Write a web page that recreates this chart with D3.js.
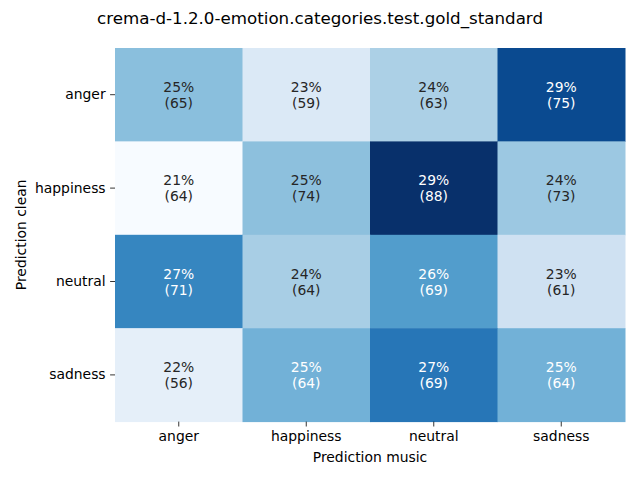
<!DOCTYPE html>
<html><head><meta charset="utf-8">
<script src="https://cdn.jsdelivr.net/npm/d3@7"></script>
<style>body{margin:0;background:#fff}text{font-family:"DejaVu Sans",sans-serif}</style>
</head><body>
<svg id="c" width="640" height="480"></svg>
<script>
const title = "crema-d-1.2.0-emotion.categories.test.gold_standard";
const rowLabels = ["anger", "happiness", "neutral", "sadness"];
const colLabels = ["anger", "happiness", "neutral", "sadness"];
const angerRow = [65, 59, 63, 75];
const happinessRow = [64, 74, 88, 73];
const neutralRow = [71, 64, 69, 61];
const sadnessRow = [56, 64, 69, 64];
const counts = [angerRow, happinessRow, neutralRow, sadnessRow];
const xTitle = "Prediction music";
const yTitle = "Prediction clean";

const svg = d3.select("#c");
const L = 115, T = 48, R = 625, B = 421.6;
const x = d3.scaleBand().domain(colLabels).range([L, R]);
const y = d3.scaleBand().domain(rowLabels).range([T, B]);

const cells = [];
counts.forEach((row, i) => {
  const tot = d3.sum(row);
  row.forEach((v, j) => cells.push({r: rowLabels[i], c: colLabels[j], v, p: v / tot}));
});
const ext = d3.extent(cells, d => d.p);
const color = d3.scaleSequential(d3.interpolateBlues).domain(ext);

function lum(c) {
  const rgb = d3.rgb(c);
  const f = u => { u /= 255; return u <= 0.03928 ? u / 12.92 : Math.pow((u + 0.055) / 1.055, 2.4); };
  return 0.2126 * f(rgb.r) + 0.7152 * f(rgb.g) + 0.0722 * f(rgb.b);
}

svg.selectAll("rect.cell").data(cells).enter().append("rect")
  .attr("x", d => x(d.c)).attr("y", d => y(d.r))
  .attr("width", x.bandwidth() + 0.5).attr("height", y.bandwidth() + 0.5)
  .attr("fill", d => color(d.p));

const g = svg.selectAll("g.lab").data(cells).enter().append("g")
  .attr("transform", d => `translate(${x(d.c) + x.bandwidth() / 2},${y(d.r) + y.bandwidth() / 2})`);
g.append("text").attr("text-anchor", "middle").attr("y", -3).attr("font-size", 13.9)
  .attr("fill", d => lum(color(d.p)) < 0.408 ? "#fff" : "#262626")
  .text(d => Math.round(d.p * 100) + "%");
g.append("text").attr("text-anchor", "middle").attr("y", 13).attr("font-size", 13.9)
  .attr("fill", d => lum(color(d.p)) < 0.408 ? "#fff" : "#262626")
  .text(d => "(" + d.v + ")");

const xa = svg.append("g").attr("transform", `translate(0,${B})`)
  .call(d3.axisBottom(x).tickSize(4.9).tickPadding(4.5));
const ya = svg.append("g").attr("transform", `translate(${L},0)`)
  .call(d3.axisLeft(y).tickSize(4.9).tickPadding(4.5));
[xa, ya].forEach(a => {
  a.select(".domain").remove();
  a.selectAll("text").attr("font-size", 13.9).attr("fill", "#000").style("font-family", "DejaVu Sans");
  a.selectAll("line").attr("stroke", "#000").attr("stroke-width", 0.8);
});

svg.append("text").attr("x", (L + R) / 2).attr("y", 462).attr("text-anchor", "middle")
  .attr("font-size", 13.9).text(xTitle);
svg.append("text").attr("transform", `translate(26,${(T + B) / 2}) rotate(-90)`)
  .attr("text-anchor", "middle").attr("font-size", 13.9).text(yTitle);
svg.append("text").attr("x", 320).attr("y", 24).attr("text-anchor", "middle")
  .attr("font-size", 16.7).text(title);
</script>
</body></html>
